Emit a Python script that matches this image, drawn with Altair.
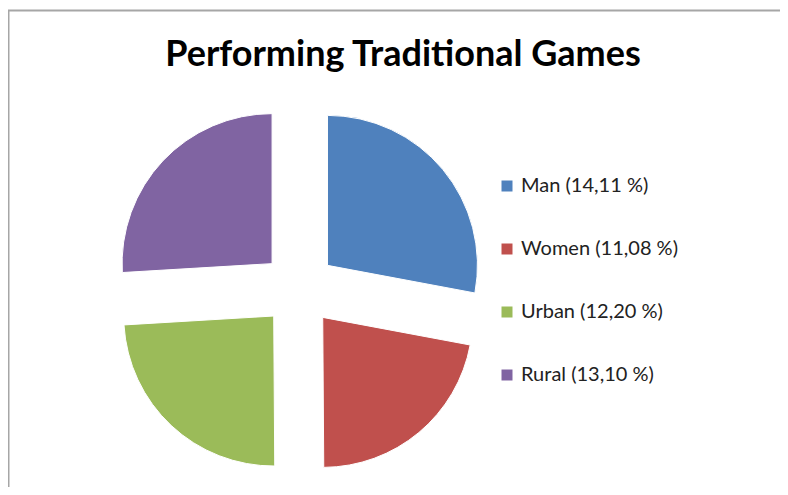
import altair as alt
import pandas as pd

categories = ["Man", "Women", "Urban", "Rural"]
values = [14.11, 11.08, 12.20, 13.10]
colors = ["#4F81BD", "#C0504D", "#9BBB59", "#8064A2"]
labels = [f"{c} ({v:.2f} %)".replace(".", ",") for c, v in zip(categories, values)]

df = pd.DataFrame({"idx": list(range(len(categories))), "label": labels, "value": values})

CX, CY, R, D = 291, 281, 150, 37

base = alt.Chart(df).transform_joinaggregate(
    total="sum(value)"
).transform_window(
    cum="sum(value)", sort=[alt.SortField("idx")], frame=[None, 0]
).transform_calculate(
    t1="datum.cum / datum.total * 2 * PI",
    t0="(datum.cum - datum.value) / datum.total * 2 * PI",
).transform_calculate(
    mid="(datum.t0 + datum.t1) / 2"
).transform_calculate(
    px=f"{CX} + {D} * sin(datum.mid)",
    py=f"{CY} - {D} * cos(datum.mid)",
)

pie = base.mark_arc(outerRadius=R, stroke="white", strokeWidth=1).encode(
    theta=alt.Theta("t0:Q", scale=None),
    theta2="t1:Q",
    x=alt.X("px:Q", scale=None),
    y=alt.Y("py:Q", scale=None),
    color=alt.Color(
        "label:N",
        scale=alt.Scale(domain=labels, range=colors),
        sort=labels,
        legend=alt.Legend(
            title=None,
            orient="none",
            legendX=489,
            legendY=168,
            symbolType="square",
            symbolSize=121,
            symbolStrokeWidth=0,
            labelFont="Lato",
            labelFontSize=20,
            labelColor="#222222",
            rowPadding=43,
            labelOffset=4,
        ),
    ),
)

frame = alt.Chart(alt.Data(values=[{"a": 1}]))
border = frame.mark_rect(fill=None, stroke="#a6a6a6", strokeWidth=2).encode(
    x=alt.value(0.5), x2=alt.value(820), y=alt.value(2.5), y2=alt.value(520)
)

chart = alt.layer(border, pie).properties(
    width=772,
    height=479,
    padding=0,
    autosize=alt.AutoSizeParams(type="none"),
    title=alt.TitleParams(
        "Performing Traditional Games",
        font="Lato",
        fontSize=36,
        fontWeight="bold",
        color="#000000",
        anchor="middle",
        dx=9,
        dy=70,
    ),
).configure_view(strokeWidth=0, stroke="transparent")

chart.save("out.html", embed_options={"renderer": "svg", "actions": False})
